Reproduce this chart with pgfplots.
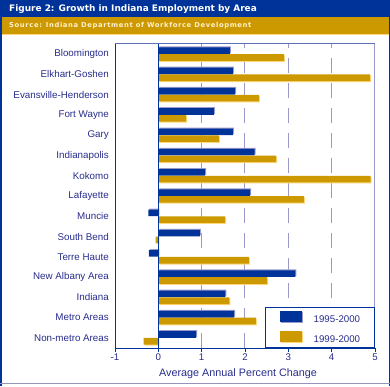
\documentclass[border=0pt]{standalone}
\usepackage{pgfplots}
\pgfplotsset{compat=1.18}
\usepackage{pgfplotstable}
\usepackage{fontspec}
\setmainfont{Liberation Sans}
\newfontfamily\titlefont{DejaVu Sans}
\newfontfamily\srcfont{DejaVu Sans}[LetterSpace=9]
\definecolor{dblue}{RGB}{0,51,153}
\definecolor{gold}{RGB}{204,153,0}
\definecolor{lav}{RGB}{153,153,204}
\definecolor{tcol}{RGB}{40,45,140}
\definecolor{cream}{RGB}{255,240,205}
\definecolor{lgold}{RGB}{255,215,120}
% idx: 14 = top row (Bloomington), 0 = bottom row (Non-metro Areas)
\pgfplotstableread{
idx a b
14 1.65 2.90
13 1.72 4.89
12 1.77 2.32
11 1.28 0.64
10 1.72 1.40
9 2.22 2.72
8 1.08 4.90
7 2.12 3.36
6 -0.23 1.54
5 0.96 -0.06
4 -0.22 2.09
3 3.16 2.51
2 1.55 1.64
1 1.75 2.25
0 0.87 -0.34
}\data
\begin{document}
\begin{tikzpicture}[x=1pt,y=1pt]
\useasboundingbox (0,0) rectangle (390,386);
\fill[white] (0,0) rectangle (390,386);
\fill[dblue] (0,369) rectangle (390,386);
\fill[gold] (0,352) rectangle (390,369);
\fill[lgold] (0,351) rectangle (390,352);
\node[anchor=base west, inner sep=0pt, text=white, font=\titlefont\bfseries\fontsize{8.95}{11}\selectfont] at (9,374.3) {Figure 2: Growth in Indiana Employment by Area};
\node[anchor=base west, inner sep=0pt, text=cream, font=\srcfont\bfseries\fontsize{6.8}{8}\selectfont] at (9,358) {Source: Indiana Department of Workforce Development};
\draw[dblue, line width=1.5pt] (0.75,0) -- (0.75,386);
\draw[dblue, line width=1.5pt] (389.25,0) -- (389.25,386);
\draw[lav!80!gray, line width=1.2pt] (0,2.5) -- (390,2.5);
\begin{axis}[
  at={(115pt,38pt)}, anchor=south west, scale only axis,
  width=260pt, height=304pt,
  xmin=-1, xmax=5, ymin=-0.5, ymax=14.5,
  xbar, bar width=6.6pt,
  axis line style={draw=none},
  xtick={-1,0,1,2,3,4,5}, xtick pos=bottom, tick align=outside,
  major tick length=4pt,
  x tick style={dblue, line width=0.8pt},
  ytick={0,...,14},
  yticklabels={Non-metro Areas,Metro Areas,Indiana,New Albany Area,Terre Haute,South Bend,Muncie,Lafayette,Kokomo,Indianapolis,Gary,Fort Wayne,Evansville-Henderson,Elkhart-Goshen,Bloomington},
  y tick style={draw=none},
  xmajorgrids,
  major grid style={lav, line width=1pt, dash pattern=on 15pt off 10pt, dash phase=0.3pt},
  /pgf/number format/assume math mode=true,
  xticklabel style={font=\fontsize{9.7}{11}\selectfont, text=tcol, inner ysep=1.5pt},
  yticklabel style={font=\fontsize{9.8}{11}\selectfont, text=tcol, inner xsep=2pt},
  legend style={at={(axis cs:5,-0.5)}, anchor=south east, draw=dblue, line width=1.2pt,
    fill=white, inner xsep=14.3pt, inner ysep=3.5pt, row sep=7pt,
    font=\fontsize{9.7}{11}\selectfont, text=tcol, nodes={inner sep=0pt},
    /tikz/every odd column/.append style={column sep=11pt}},
  legend cell align=left,
]
\addplot[fill=lav, draw=none, bar shift=3.4pt, xshift=1pt, yshift=1pt, forget plot] table[x=a, y=idx] {\data};
\addplot[fill=lgold, draw=none, bar shift=-3.4pt, xshift=1pt, yshift=-1pt, forget plot] table[x=b, y=idx] {\data};
\addplot[fill=dblue, draw=none, bar shift=3.4pt,
  legend image code/.code={\fill[lav] (1pt,-3pt) rectangle (23pt,8pt);\fill[dblue] (0pt,-2pt) rectangle (22pt,9pt);}] table[x=a, y=idx] {\data};
\addplot[fill=gold, draw=none, bar shift=-3.4pt,
  legend image code/.code={\fill[lgold] (1pt,-3pt) rectangle (23pt,8pt);\fill[gold] (0pt,-2pt) rectangle (22pt,9pt);}] table[x=b, y=idx] {\data};
\legend{1995-2000,1999-2000}
\draw[lav, line width=2pt] (axis cs:5,-0.5) -- (axis cs:5,14.5);
\draw[lav!60!dblue, line width=1pt] (axis cs:-1,14.5) -- (axis cs:5,14.5);
\draw[dblue, line width=1pt] (axis cs:-1,-0.5) -- (axis cs:-1,14.5);
\draw[dblue, line width=1pt] (axis cs:-1,-0.5) -- (axis cs:5,-0.5);
\draw[dblue, line width=1pt] (axis cs:0,-0.5) -- (axis cs:0,14.5);
\end{axis}
\node[anchor=base west, inner sep=0pt, text=tcol, font=\fontsize{10.8}{13}\selectfont] at (159,10) {Average Annual Percent Change};
\end{tikzpicture}
\end{document}
